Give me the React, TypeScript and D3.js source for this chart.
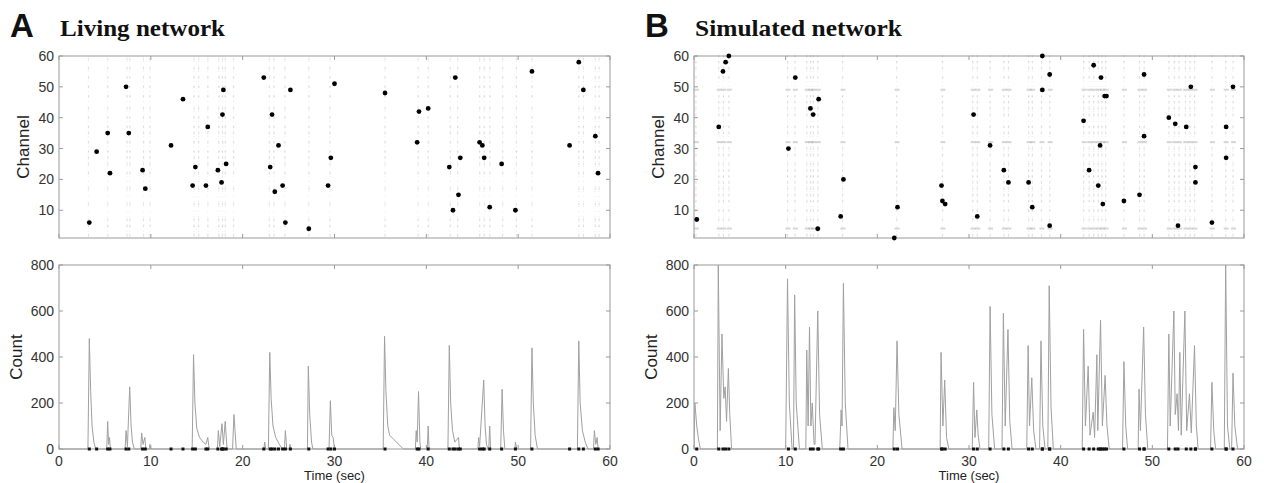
import React from "react";
import * as d3 from "d3";

// ---------- data ----------
const timeTicks = [0, 10, 20, 30, 40, 50, 60];
const channelTicks = [10, 20, 30, 40, 50, 60];
const countTicks = [0, 200, 400, 600, 800];

// Highlighted spikes (time s, channel)
const dotsA: [number, number][] = [
  [3.3, 6], [4.1, 29], [5.3, 35], [5.55, 22], [7.3, 50], [7.6, 35], [9.1, 23], [9.4, 17],
  [12.2, 31], [13.5, 46], [14.55, 18], [14.85, 24], [16.0, 18], [16.2, 37], [17.3, 23],
  [17.7, 19], [17.8, 41], [17.9, 49], [18.2, 25], [22.3, 53], [23.0, 24], [23.2, 41],
  [23.5, 16], [23.9, 31], [24.35, 18], [24.65, 6], [25.2, 49], [27.2, 4], [29.3, 18],
  [29.6, 27], [30.0, 51], [35.5, 48], [39.0, 32], [39.2, 42], [40.2, 43], [42.5, 24],
  [42.9, 10], [43.15, 53], [43.5, 15], [43.7, 27], [45.8, 32], [46.1, 31], [46.3, 27],
  [46.9, 11], [48.2, 25], [49.7, 10], [51.5, 55], [55.6, 31], [56.6, 58], [57.1, 49],
  [58.4, 34], [58.7, 22],
];
const dotsB: [number, number][] = [
  [0.3, 7], [2.7, 37], [3.16, 55], [3.45, 58], [3.8, 60], [10.3, 30], [11.05, 53],
  [12.7, 43], [13.0, 41], [13.5, 4], [13.6, 46], [16.0, 8], [16.3, 20], [21.85, 1],
  [22.2, 11], [27.0, 18], [27.1, 13], [27.4, 12], [30.5, 41], [30.9, 8], [32.3, 31],
  [33.8, 23], [34.3, 19], [36.5, 19], [36.9, 11], [38.0, 60], [38.0, 49], [38.8, 54],
  [38.8, 5], [42.5, 39], [43.1, 23], [43.6, 57], [44.1, 18], [44.3, 31], [44.4, 53],
  [44.6, 12], [44.8, 47], [45.0, 47], [46.9, 13], [48.6, 15], [49.1, 54], [49.1, 34],
  [51.8, 40], [52.5, 38], [52.8, 5], [53.7, 37], [54.2, 50], [54.7, 24], [54.7, 19],
  [56.5, 6], [58.05, 37], [58.05, 27], [58.8, 50],
];

// Background burst columns and active channel rows
const burstsA = [3.2, 5.3, 7.4, 7.7, 9.2, 9.9, 14.7, 15.2, 16.2, 17.4, 17.8, 18.1, 19.0, 22.9, 23.4, 24.6, 27.2,
  29.5, 35.5, 39.1, 40.2, 42.6, 43.4, 45.8, 46.3, 46.9, 48.3, 49.8, 51.5, 56.6, 57.1, 58.4, 58.8];
const rowsA = [2, 5, 7, 12, 17, 22, 25, 27, 29, 32, 35, 37, 40, 43, 47, 50, 53, 56, 59];
const burstsB = [0.2, 2.7, 3.2, 3.8, 10.2, 11.0, 12.3, 12.7, 13.0, 13.5, 16.2, 22.1, 27.1, 30.4, 30.9,
  32.3, 33.8, 34.3, 36.5, 36.9, 37.9, 38.8, 42.5, 43.1, 43.6, 44.1, 44.5, 44.9, 46.9, 48.6, 49.1,
  51.8, 52.4, 52.9, 53.6, 54.1, 54.6, 56.5, 58.0, 58.8];
const rowsB = [2, 4, 7, 10, 13, 15, 17, 19, 21, 23, 25, 28, 30, 32, 35, 37, 41, 43, 45, 47, 49, 53, 56, 58, 60];
const heavyRowsB = [4, 32, 49];

// Population count traces (time s, count)
const countA: [number, number][] = [
  [0, 0], [3.15, 0], [3.3, 480], [3.45, 250], [3.6, 100], [3.8, 30], [4.0, 0],
  [5.2, 0], [5.3, 120], [5.4, 20], [5.5, 50], [5.6, 0],
  [7.2, 0], [7.3, 80], [7.45, 10], [7.7, 270], [7.85, 100], [8.0, 30], [8.2, 0],
  [8.9, 0], [9.0, 70], [9.15, 20], [9.35, 50], [9.45, 0],
  [9.85, 0], [9.9, 20], [10.0, 0],
  [14.5, 0], [14.65, 410], [14.8, 200], [15.0, 90], [15.3, 50], [15.7, 30], [16.0, 20], [16.2, 50], [16.35, 0],
  [17.25, 0], [17.35, 80], [17.5, 10], [17.75, 110], [17.9, 20], [18.1, 120], [18.3, 0],
  [18.9, 0], [19.05, 150], [19.3, 0],
  [22.3, 0], [22.4, 30], [22.5, 0],
  [22.8, 0], [22.95, 420], [23.1, 220], [23.3, 100], [23.6, 50], [24.0, 20], [24.3, 0],
  [24.55, 0], [24.65, 80], [24.8, 0],
  [25.05, 0], [25.15, 20], [25.25, 0],
  [27.05, 0], [27.15, 360], [27.3, 150], [27.5, 30], [27.65, 0],
  [29.4, 0], [29.55, 210], [29.7, 60], [29.85, 50], [30.0, 0],
  [35.3, 0], [35.45, 490], [35.6, 250], [35.8, 100], [36.0, 60], [36.5, 40], [37.0, 20], [37.5, 0],
  [38.8, 0], [38.9, 80], [39.0, 30], [39.15, 250], [39.3, 30], [39.4, 0],
  [40.1, 0], [40.2, 100], [40.3, 0],
  [42.35, 0], [42.5, 450], [42.65, 200], [42.85, 80], [43.1, 30], [43.3, 40], [43.5, 50], [43.6, 0],
  [45.6, 0], [45.7, 50], [45.8, 10], [46.25, 300], [46.4, 100], [46.55, 20], [46.7, 0],
  [46.8, 0], [46.9, 100], [47.0, 0],
  [48.1, 0], [48.25, 260], [48.4, 80], [48.55, 0],
  [49.65, 0], [49.7, 30], [49.85, 0],
  [51.35, 0], [51.5, 440], [51.65, 200], [51.85, 60], [52.1, 0],
  [56.45, 0], [56.6, 470], [56.75, 200], [57.0, 80], [57.3, 30], [57.6, 0],
  [58.2, 0], [58.3, 80], [58.45, 20], [58.6, 50], [58.7, 0], [60, 0],
];
const countB: [number, number][] = [
  [0, 0], [0.1, 200], [0.3, 100], [0.5, 40], [0.7, 0],
  [2.55, 0], [2.65, 800], [2.85, 80], [3.05, 500], [3.25, 220], [3.4, 270], [3.55, 120], [3.75, 350], [3.9, 150], [4.1, 0],
  [10.0, 0], [10.2, 740], [10.4, 200], [10.7, 0],
  [10.85, 0], [10.98, 670], [11.15, 200], [11.5, 0],
  [12.2, 0], [12.3, 430], [12.45, 100], [12.6, 530], [12.75, 100], [12.9, 200], [13.1, 20], [13.2, 20], [13.5, 600], [13.7, 150], [14.0, 0],
  [15.9, 0], [16.05, 170], [16.15, 100], [16.3, 720], [16.5, 200], [16.8, 0],
  [21.7, 0], [21.8, 180], [21.95, 80], [22.15, 470], [22.35, 150], [22.7, 0],
  [26.85, 0], [26.95, 420], [27.15, 100], [27.35, 300], [27.55, 50], [27.8, 0],
  [30.35, 0], [30.5, 290], [30.65, 50], [30.85, 170], [31.0, 60], [31.2, 0],
  [32.15, 0], [32.3, 620], [32.5, 150], [32.8, 0],
  [33.6, 0], [33.75, 590], [33.95, 100], [34.25, 520], [34.45, 120], [34.7, 0],
  [36.3, 0], [36.45, 450], [36.6, 100], [36.85, 310], [37.05, 80], [37.3, 0],
  [37.7, 0], [37.85, 470], [38.05, 100], [38.3, 0],
  [38.6, 0], [38.75, 710], [38.95, 180], [39.2, 0],
  [42.35, 0], [42.5, 520], [42.7, 100], [43.0, 360], [43.2, 60], [43.55, 160], [43.7, 50], [43.95, 410], [44.05, 80],
  [44.35, 560], [44.55, 100], [44.85, 320], [45.05, 100], [45.3, 0],
  [46.75, 0], [46.9, 380], [47.1, 100], [47.3, 0],
  [48.45, 0], [48.55, 260], [48.7, 80], [49.05, 530], [49.25, 150], [49.5, 0],
  [51.65, 0], [51.8, 500], [51.95, 100], [52.35, 600], [52.5, 150], [52.7, 240], [52.85, 80], [53.0, 420], [53.15, 60],
  [53.55, 600], [53.75, 80], [54.05, 240], [54.25, 70], [54.6, 450], [54.8, 100], [55.0, 0],
  [56.35, 0], [56.5, 290], [56.7, 80], [56.9, 0],
  [57.85, 0], [58.0, 800], [58.2, 100], [58.45, 0],
  [58.65, 0], [58.8, 330], [59.0, 100], [59.3, 0], [60, 0],
];

// ---------- layout ----------
const W = 1264;
const H = 483;
const rasterTop = 56;
const rasterBottom = 238;
const countTop = 265;
const countBottom = 449;
const FRAME = "#9a9a9a";
const SANS = "'Liberation Sans', Arial, Helvetica, sans-serif";
const SERIF = "'Liberation Serif', 'Times New Roman', serif";

type PanelProps = {
  id: string;
  letter: string;
  title: string;
  titleLen: number;
  x0: number;
  x1: number;
  dots: [number, number][];
  bursts: number[];
  rows: number[];
  heavyRows: number[];
  count: [number, number][];
};

function Panel(p: PanelProps) {
  const x = d3.scaleLinear().domain([0, 60]).range([p.x0, p.x1]);
  const yR = d3.scaleLinear().domain([1, 60]).range([rasterBottom, rasterTop]);
  const yC = d3.scaleLinear().domain([0, 800]).range([countBottom, countTop]);
  const line = d3
    .line<[number, number]>()
    .x((d) => x(d[0]))
    .y((d) => yC(d[1]));
  const tl = 4;

  const frame = (top: number, bottom: number, yTicks: number[], ys: (v: number) => number) => (
    <g>
      <rect x={p.x0} y={top} width={p.x1 - p.x0} height={bottom - top} fill="none" stroke={FRAME} strokeWidth={1} />
      {timeTicks.map((t) => (
        <g key={"xt" + t}>
          <line x1={x(t)} x2={x(t)} y1={bottom} y2={bottom - tl} stroke={FRAME} />
          <line x1={x(t)} x2={x(t)} y1={top} y2={top + tl} stroke={FRAME} />
        </g>
      ))}
      {yTicks.map((v) => (
        <g key={"yt" + v}>
          <line x1={p.x0} x2={p.x0 + tl} y1={ys(v)} y2={ys(v)} stroke={FRAME} />
          <line x1={p.x1} x2={p.x1 - tl} y1={ys(v)} y2={ys(v)} stroke={FRAME} />
          <text x={p.x0 - 5} y={ys(v)} dy="0.36em" textAnchor="end" fontSize={14} fontFamily={SANS} fill="#333">
            {v}
          </text>
        </g>
      ))}
    </g>
  );

  const clipId = "clip" + p.id;
  return (
    <g>
      <defs>
        <clipPath id={clipId}>
          <rect x={p.x0} y={countTop} width={p.x1 - p.x0} height={countBottom - countTop + 1} />
        </clipPath>
      </defs>
      <text x={p.x0 - 49} y={37} fontSize={33} fontWeight="bold" fontFamily={SANS} fill="#111">
        {p.letter}
      </text>
      <text x={p.x0 + 1} y={36} fontSize={24} fontWeight="bold" fontFamily={SERIF} fill="#111"
        textLength={p.titleLen} lengthAdjust="spacingAndGlyphs">
        {p.title}
      </text>

      {/* raster background */}
      <g>
        {p.bursts.map((b, i) => (
          <line key={"bl" + i} x1={x(b)} x2={x(b)} y1={rasterTop} y2={rasterBottom} stroke="#ccc" strokeWidth={1}
            strokeDasharray="1 4" opacity={0.35} />
        ))}
        {p.bursts.map((b, i) =>
          p.rows.map((r) => {
            const heavy = p.heavyRows.indexOf(r) >= 0;
            return (
              <rect key={"bt" + i + "_" + r} x={x(b) - (heavy ? 2 : 0.5)} y={yR(r) - 1.2}
                width={heavy ? 5 : 1.2} height={heavy ? 2 : 2.5} fill="#999" opacity={heavy ? 0.4 : 0.28} />
            );
          })
        )}
      </g>
      {frame(rasterTop, rasterBottom, channelTicks, yR)}
      {p.dots.map((d, i) => (
        <circle key={"d" + i} cx={x(d[0])} cy={yR(d[1])} r={2.4} fill="#000" />
      ))}
      <text transform={`translate(${p.x0 - 30},${(rasterTop + rasterBottom) / 2}) rotate(-90)`}
        textAnchor="middle" fontSize={17} fontFamily={SANS} fill="#222">
        Channel
      </text>

      {/* count */}
      {frame(countTop, countBottom, countTicks, yC)}
      <path d={line(p.count) || ""} fill="none" stroke="#a0a0a0" strokeWidth={1} clipPath={`url(#${clipId})`} />
      {p.dots.map((d, i) => (
        <rect key={"m" + i} x={x(d[0]) - 1.5} y={countBottom - 1.5} width={3} height={3} fill="#111" />
      ))}
      {timeTicks.map((t) => (
        <text key={"xl" + t} x={x(t)} y={466} textAnchor="middle" fontSize={14} fontFamily={SANS} fill="#333">
          {t}
        </text>
      ))}
      <text transform={`translate(${p.x0 - 37},${(countTop + countBottom) / 2}) rotate(-90)`}
        textAnchor="middle" fontSize={17} fontFamily={SANS} fill="#222">
        Count
      </text>
      <text x={(p.x0 + p.x1) / 2} y={480} textAnchor="middle" fontSize={13} fontFamily={SANS} fill="#222">
        Time (sec)
      </text>
    </g>
  );
}

export default function App() {
  return (
    <svg width={W} height={H} style={{ position: "absolute", left: 0, top: 0, background: "#fff" }}>
      <rect width={W} height={H} fill="#fff" />
      <Panel id="A" letter="A" title="Living network" titleLen={165} x0={59} x1={610} dots={dotsA}
        bursts={burstsA} rows={rowsA} heavyRows={[]} count={countA} />
      <Panel id="B" letter="B" title="Simulated network" titleLen={207} x0={694} x1={1244} dots={dotsB}
        bursts={burstsB} rows={rowsB} heavyRows={heavyRowsB} count={countB} />
    </svg>
  );
}
